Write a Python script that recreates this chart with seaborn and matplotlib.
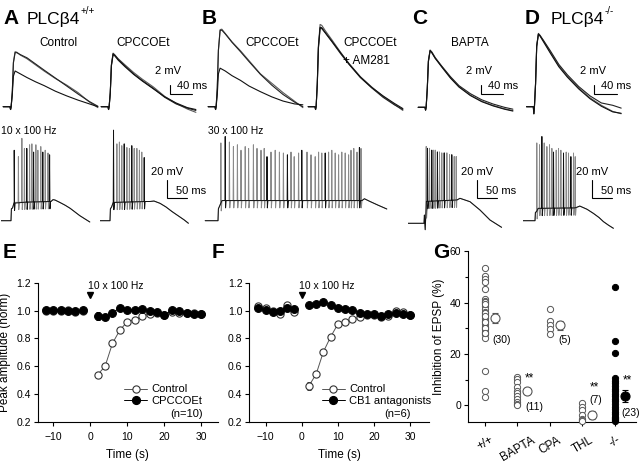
import numpy as np
import pandas as pd
import matplotlib
matplotlib.use("Agg")
import matplotlib.pyplot as plt
import seaborn as sns
from matplotlib.lines import Line2D

# ======================= DATA =======================
# --- EPSP traces (ms, mV) ---
EPSP_T = [-12, 0, 1, 2, 4, 6, 9, 12, 18, 30, 45, 60, 80, 100, 120, 140, 155]
A_CTRL_1 = [0, 0, -0.6, 0, 3, 9.5, 11.7, 11.6, 11.0, 10.2, 8.9, 7.6, 6.0, 4.6, 3.0, 1.0, -0.2]
A_CTRL_2 = [0, 0, -0.6, 0, 3, 9.3, 11.5, 11.5, 11.1, 10.4, 9.1, 7.8, 6.1, 4.4, 2.7, 1.1, 0.1]
A_CTRL_3 = [0, 0, -0.6, 0, 2.5, 6.5, 7.6, 7.4, 7.0, 6.2, 5.3, 4.5, 3.3, 2.3, 1.4, 0.6, 0.0]
A_CPC_1 = [0, 0, -0.6, 0, 3, 9.0, 11.4, 11.0, 10.2, 8.9, 7.3, 5.9, 4.2, 2.2, 0.7, -0.5, -1.2]
A_CPC_2 = [0, 0, -0.6, 0, 3, 8.8, 11.3, 11.0, 10.1, 8.7, 7.0, 5.6, 3.9, 2.0, 0.6, -0.3, -0.8]
A_CPC_3 = [0, 0, -0.6, 0, 2.8, 8.7, 11.1, 10.8, 9.9, 8.5, 6.9, 5.5, 3.8, 2.1, 0.8, -0.2, -0.6]
B_CPC_1 = [0, 0, -0.6, 0, 4, 12.0, 16.4, 16.5, 15.6, 13.8, 11.9, 9.8, 7.0, 5.0, 3.0, 1.2, -0.2]
B_CPC_2 = [0, 0, -0.6, 0, 4, 12.0, 16.2, 16.3, 15.5, 13.7, 11.7, 9.6, 6.9, 4.6, 2.6, 1.0, 0.0]
B_CPC_3 = [0, 0, -0.6, 0, 2.5, 7.0, 8.2, 8.0, 7.6, 6.6, 5.6, 4.4, 3.2, 2.1, 1.2, 0.6, 0.4]
B_AM_1 = [0, 0, -0.6, 0, 5, 13.0, 17.5, 17.3, 16.2, 14.2, 11.6, 9.2, 6.4, 4.2, 2.2, 0.5, -0.8]
B_AM_2 = [0, 0, -0.6, 0, 4.6, 12.4, 16.7, 16.6, 15.7, 13.8, 11.3, 9.0, 6.2, 4.0, 2.0, 0.4, -0.6]
B_AM_3 = [0, 0, -0.6, 0, 4.7, 12.6, 16.9, 16.8, 15.8, 13.9, 11.5, 9.1, 6.3, 4.1, 2.3, 0.7, -0.4]
C_BAP_1 = [0, 0, -0.6, 0, 4, 10.0, 12.2, 11.8, 10.6, 8.6, 6.3, 4.4, 2.6, 1.3, 0.4, -0.3, -0.7]
C_BAP_2 = [0, 0, -0.6, 0, 4, 9.8, 12.0, 11.7, 10.5, 8.7, 6.5, 4.6, 2.9, 1.6, 0.7, 0.0, -0.4]
C_BAP_3 = [0, 0, -0.6, 0, 3.8, 9.7, 12.1, 11.6, 10.4, 8.5, 6.2, 4.3, 2.5, 1.2, 0.3, -0.4, -0.8]
D_KO_1 = [0, 0, -1.5, 0, 5, 13.0, 15.6, 15.2, 14.0, 11.6, 8.7, 6.5, 4.0, 1.9, 0.3, -1.0, -1.5]
D_KO_2 = [0, 0, -1.5, 0, 5, 12.8, 15.4, 15.1, 14.1, 11.9, 9.0, 6.8, 4.3, 2.3, 0.8, 0.3, -0.3]
D_KO_3 = [0, 0, -1.5, 0, 4.8, 12.9, 15.5, 15.0, 13.8, 11.4, 8.5, 6.3, 3.8, 1.7, 0.1, -1.1, -1.4]

# --- spike trains (ms, mV) ---
A_CTRL_ENV_T = [-25, 0, 1, 4, 8, 100, 105, 110, 122, 135, 148, 160, 172, 185, 197]
A_CTRL_ENV_V = [0, 0, 13, 14, 20, 21, 23, 22.6, 20, 17, 13.5, 9.5, 5.5, 1.9, -1.4]
A_CTRL_BLK_T = [7.5, 39, 56, 79, 96]
A_CTRL_BLK_V = [77, 79, 75, 75, 72]
A_CTRL_GRY_T = [18, 26.7, 33, 46, 51.7, 61.7, 66.7, 74, 85, 92]
A_CTRL_GRY_V = [70, 90, 79, 83, 84, 83, 77, 81, 77, 74]

A_CPC_ENV_T = [-25, 0, 1, 4, 8, 92, 100, 110, 125, 140, 155, 170, 185, 196]
A_CPC_ENV_V = [0, 0, 13, 15, 20, 21, 21, 21.5, 19, 15, 10, 5.5, 1, -2.8]
A_CPC_BLK_T = [8.3, 35, 54, 85]
A_CPC_BLK_V = [99, 84, 82, 69]
A_CPC_GRY_T = [16.7, 23, 29, 41.7, 48, 60, 66.7, 73, 79]
A_CPC_GRY_V = [84, 86, 82, 80, 79, 79, 79, 77, 75]

B_ENV_T = [-32, 0, 1, 4, 10, 360, 366, 380, 400, 422]
B_ENV_V = [0, 0, 13, 16, 22, 22, 24, 21, 17, 12.8]
B_BLK_T = [17.5, 122, 173, 209, 267.5, 353]
B_BLK_V = [92, 70, 72, 77, 74, 80]
B_GRY_T = [6.7, 28, 38, 48, 57, 67.5, 76, 88, 97, 107, 115, 132, 142.5, 153, 163, 182,
           190, 201, 222, 232, 242.5, 251, 259, 276, 284, 292.5, 301, 309, 317.5, 326,
           332, 339, 347, 357]
B_GRY_V = [85, 86, 81, 83, 77, 81, 79, 83, 79, 77, 79, 75, 77, 75, 74, 75,
           70, 74, 75, 72, 70, 75, 74, 75, 77, 74, 72, 75, 74, 72,
           77, 79, 75, 79]

C_ENV_T = [-40, 0, 1, 3, 6, 82, 90, 115, 140, 165, 194]
C_ENV_V = [0, 0, 9, -7, 24, 25.5, 27.3, 23.6, 14.5, 3.6, -4.4]
C_BLK_T = [8.3, 19, 33, 50, 69]
C_BLK_V = [82, 80, 78, 77, 75]
C_GRY_T = [5, 13.3, 23.3, 27.5, 38.3, 44, 56.7, 63.3, 75, 80]
C_GRY_V = [84, 82, 80, 80, 78, 77, 77, 75, 73, 73]

D_ENV_T = [-30, 0, 1, 4, 8, 100, 112, 130, 146, 160, 171, 184, 196]
D_ENV_V = [0, 0, 9, 10, 13.5, 14, 16, 12.5, 8, 3.5, -1, -5, -8.3]
D_BLK_T = [16.7, 45.8, 70.8, 89.2]
D_BLK_V = [92, 75, 74, 70]
D_GRY_T = [4, 10.8, 22.5, 29.2, 35.8, 41.7, 52.5, 58.3, 64.2, 77.5, 83.3, 95.8, 100]
D_GRY_V = [85, 83, 85, 81, 83, 79, 77, 79, 77, 75, 74, 74, 70]
AHP_DEPTH = 8   # mV below plateau after each spike

# --- panel E / F (time in s, normalised amplitude) ---
T_PRE = [-12, -10, -8, -6, -4, -2]
T_POST = [2, 4, 6, 8, 10, 12, 14, 16, 18, 20, 22, 24, 26, 28, 30]
E_CTRL_PRE = [1.00, 0.995, 1.00, 1.005, 0.99, 0.995]
E_CTRL_POST = [0.54, 0.60, 0.765, 0.86, 0.92, 0.935, 0.96, 0.975, 0.98, 0.97, 0.99, 0.985, 0.98, 0.98, 0.975]
E_CTRL_SEM = [0.02, 0.02, 0.02, 0.015, 0.01, 0.01, 0.01, 0.01, 0.01, 0.01, 0.01, 0.01, 0.01, 0.01, 0.01]
E_CPC_PRE = [1.007, 1.007, 1.005, 0.998, 0.998, 1.002]
E_CPC_POST = [0.959, 0.951, 0.983, 1.020, 1.005, 1.007, 1.009, 0.998, 0.993, 0.969, 1.002, 0.995, 0.980, 0.976, 0.976]
E_CPC_SEM = [0.03, 0.02, 0.015, 0.01, 0.01, 0.01, 0.01, 0.01, 0.01, 0.01, 0.01, 0.01, 0.01, 0.01, 0.01]

F_CTRL_PRE = [1.036, 1.02, 1.00, 0.978, 1.041, 0.988]
F_CTRL_POST = [0.46, 0.544, 0.704, 0.811, 0.903, 0.915, 0.937, 0.951, 0.97, 0.97, 0.955, 0.96, 1.0, 0.99, 0.97]
F_CTRL_SEM = [0.03, 0.02, 0.02, 0.015, 0.01, 0.01, 0.01, 0.01, 0.01, 0.01, 0.01, 0.01, 0.01, 0.01, 0.01]
F_CB1_PRE = [1.02, 1.005, 0.988, 0.995, 1.017, 1.012]
F_CB1_POST = [1.041, 1.046, 1.065, 1.039, 1.02, 1.01, 1.007, 0.98, 0.978, 0.973, 0.961, 0.978, 0.98, 0.973, 0.969]
F_CB1_SEM = [0.015, 0.01, 0.01, 0.01, 0.01, 0.01, 0.01, 0.01, 0.01, 0.01, 0.01, 0.01, 0.01, 0.01, 0.01]

# --- panel G (% inhibition) ---
G_CATS = ["+/+", "BAPTA", "CPA", "THL", "-/-"]
G_WT = [53.4, 50.5, 49.2, 47.9, 45.2, 41.3, 40.6, 40.0, 38.8, 37.7, 36.5, 35.3, 34.2, 33.0, 31.8,
        30.6, 29.6, 28.7, 27.8, 26.4, 13.4, 5.6, 3.2, 40.3, 39.4, 36.0, 34.8, 32.4, 30.0, 28.2]
G_BAPTA = [11.2, 10.3, 9.1, 7.3, 5.7, 4.7, 3.6, 2.6, 1.4, 0.5, 0.0]
G_CPA = [37.4, 32.7, 31.3, 29.6, 27.9]
G_THL = [1.0, -0.5, -2.0, -3.8, -5.5, -5.8, -6.0]
G_KO = [46.0, 25.0, 20.4, 10.5, 9.5, 8.5, 7.5, 6.5, 5.5, 4.5, 3.5, 2.5, 1.5, 0.5, -0.5,
        -1.5, -2.5, -3.5, -4.5, -5.5, -6.0, -5.0, -5.8]
G_MEAN = [33.9, 5.5, 31.2, -3.8, 3.5]
G_SEM = [2.0, 1.2, 1.8, 1.5, 2.4]
G_N = ["(30)", "(11)", "(5)", "(7)", "(23)"]
G_SIG = ["", "**", "", "**", "**"]

# ======================= STYLE =======================
sns.set_theme(style="ticks")
plt.rcParams["font.family"] = ["Liberation Sans", "DejaVu Sans"]
plt.rcParams.update({
    "axes.linewidth": 0.8,
    "xtick.major.width": 0.8, "ytick.major.width": 0.8,
    "xtick.minor.width": 0.8, "ytick.minor.width": 0.8,
    "xtick.major.size": 3, "ytick.major.size": 3,
    "ytick.minor.size": 2,
    "xtick.labelsize": 7.5, "ytick.labelsize": 7.5,
    "axes.labelsize": 8.5,
    "xtick.major.pad": 2, "ytick.major.pad": 2,
    "axes.edgecolor": "black", "xtick.color": "black", "ytick.color": "black",
    "text.color": "black", "axes.labelcolor": "black",
})

W, H = 640, 466
fig = plt.figure(figsize=(W / 100, H / 100), dpi=100)
fig.patch.set_facecolor("white")


def px_axes(l, t, r, b):
    return fig.add_axes([l / W, 1 - b / H, (r - l) / W, (b - t) / H])


def trace_axes(x0, y0, tlim, vlim, sx, sy):
    ax = px_axes(x0 + tlim[0] * sx, y0 - vlim[1] * sy, x0 + tlim[1] * sx, y0 - vlim[0] * sy)
    ax.set_xlim(*tlim)
    ax.set_ylim(*vlim)
    ax.axis("off")
    return ax


def scale_bar(ax, t, v, dt, dv, vlab, tlab, voff, toff, fs=8):
    ax.plot([t, t, t + dt], [v + dv, v, v], color="black", lw=0.8, clip_on=False,
            solid_joinstyle="miter")
    ax.annotate(vlab, xy=(t, v + dv), xytext=voff, textcoords="offset points",
                ha="center", va="center", fontsize=fs, annotation_clip=False)
    ax.annotate(tlab, xy=(t, v), xytext=toff, textcoords="offset points",
                ha="left", va="center", fontsize=fs, annotation_clip=False)


# --------------- EPSP traces ---------------
SX_E, SY_E = 0.567, 4.7
TL_E, VL_E = (-14, 158), (-2.5, 19)
COLS = ["#5a5a5a", "#222222", "#111111"]


def draw_epsp(x0, y0, sweeps):
    ax = trace_axes(x0, y0, TL_E, VL_E, SX_E, SY_E)
    for s, c in zip(sweeps, COLS):
        sns.lineplot(x=EPSP_T, y=s, ax=ax, color=c, lw=0.8, legend=False)
    ax.axis("off")
    return ax


axA1 = draw_epsp(10, 106.7, [A_CTRL_1, A_CTRL_2, A_CTRL_3])
axA2 = draw_epsp(108, 106.7, [A_CPC_1, A_CPC_2, A_CPC_3])
axB1 = draw_epsp(215, 106.7, [B_CPC_1, B_CPC_2, B_CPC_3])
axB2 = draw_epsp(315, 106.7, [B_AM_1, B_AM_2, B_AM_3])
axC = draw_epsp(425, 107.3, [C_BAP_1, C_BAP_2, C_BAP_3])
axD = draw_epsp(533.3, 106.7, [D_KO_1, D_KO_2, D_KO_3])

scale_bar(axA2, 109, 2.6, 40, 2, "2 mV", "40 ms", (-1, 10), (5, 6))
scale_bar(axC, 98, 2.8, 40, 2, "2 mV", "40 ms", (-1, 10), (5, 6))
scale_bar(axD, 107, 2.6, 40, 2, "2 mV", "40 ms", (-1, 10), (5, 6))

# --------------- spike trains ---------------
SX_S, SY_S = 0.4, 0.915
VL_S = (-12, 100)


def sweep_xy(env_t, env_v, sp_t, sp_v):
    pts = list(zip(env_t, env_v))
    for t, v in zip(sp_t, sp_v):
        base = float(np.interp(t, env_t, env_v))
        pts += [(t - 0.2, base), (t + 0.5, v), (t + 1.4, base - AHP_DEPTH), (t + 2.8, base)]
    pts.sort()
    a = np.array(pts)
    return a[:, 0], a[:, 1]


def draw_spikes(x0, y0, tlim, env_t, env_v, blk_t, blk_v, gry_t, gry_v):
    ax = trace_axes(x0, y0, tlim, VL_S, SX_S, SY_S)
    tg, vg = sweep_xy(env_t, env_v, gry_t, gry_v)
    ax.plot(tg, vg, color="#8a8a8a", lw=0.7)
    tb, vb = sweep_xy(env_t, env_v, blk_t, blk_v)
    ax.plot(tb, vb, color="#111111", lw=0.7)
    return ax


sA1 = draw_spikes(11, 220.7, (-25, 200), A_CTRL_ENV_T, A_CTRL_ENV_V, A_CTRL_BLK_T, A_CTRL_BLK_V, A_CTRL_GRY_T, A_CTRL_GRY_V)
sA2 = draw_spikes(110, 220.7, (-25, 200), A_CPC_ENV_T, A_CPC_ENV_V, A_CPC_BLK_T, A_CPC_BLK_V, A_CPC_GRY_T, A_CPC_GRY_V)
sB = draw_spikes(218, 220.7, (-35, 430), B_ENV_T, B_ENV_V, B_BLK_T, B_BLK_V, B_GRY_T, B_GRY_V)
sC = draw_spikes(424, 223.3, (-40, 200), C_ENV_T, C_ENV_V, C_BLK_T, C_BLK_V, C_GRY_T, C_GRY_V)
sD = draw_spikes(535, 220.7, (-30, 200), D_ENV_T, D_ENV_V, D_BLK_T, D_BLK_V, D_GRY_T, D_GRY_V)

scale_bar(sA2, 141.7, 24.5, 50, 20, "20 mV", "50 ms", (0, 5.5), (7, 5))
scale_bar(sC, 131.7, 27.3, 50, 20, "20 mV", "50 ms", (0, 5.5), (7, 5))
scale_bar(sD, 141.7, 24.5, 50, 20, "20 mV", "50 ms", (0, 5.5), (7, 5))

# --------------- top texts ---------------
def ftext(x, y, s, **kw):
    fig.text(x / W, 1 - y / H, s, **kw)


for lab, x in [("A", 3), ("B", 202), ("C", 412), ("D", 525)]:
    ftext(x, 24, lab, fontsize=15, fontweight="bold", va="baseline")
ftext(27, 24, "PLCβ4", fontsize=12.5, va="baseline")
ftext(81, 14, "+/+", fontsize=7, va="baseline")
ftext(551, 24, "PLCβ4", fontsize=12.5, va="baseline")
ftext(605, 14, "-/-", fontsize=7, va="baseline")
ftext(58, 43, "Control", fontsize=8.5, ha="center", va="center")
ftext(143, 43, "CPCCOEt", fontsize=8.5, ha="center", va="center")
ftext(272, 43, "CPCCOEt", fontsize=8.5, ha="center", va="center")
ftext(343, 43, "CPCCOEt", fontsize=8.5, ha="left", va="center")
ftext(343, 61, "+ AM281", fontsize=8.5, ha="left", va="center")
ftext(470, 43, "BAPTA", fontsize=8.5, ha="center", va="center")
ftext(1, 131, "10 x 100 Hz", fontsize=7.5, ha="left", va="center")
ftext(208, 131, "30 x 100 Hz", fontsize=7.5, ha="left", va="center")
for lab, x in [("E", 3), ("F", 212), ("G", 433)]:
    ftext(x, 258, lab, fontsize=15, fontweight="bold", va="baseline")

# --------------- panels E & F ---------------
def time_panel(box, xlim, ctrl_pre, ctrl_post, ctrl_sem, drug_pre, drug_post, drug_sem,
               drug_label, n_label, leg_x, txt_x):
    ax = px_axes(*box)
    open_kw = dict(marker="o", markersize=5.2, markerfacecolor="white", markeredgecolor="#333333",
                   markeredgewidth=0.8, color="#555555", lw=0.7, legend=False)
    fill_kw = dict(marker="o", markersize=5.6, markerfacecolor="black", markeredgecolor="black",
                   markeredgewidth=0.8, color="black", lw=0.7, legend=False)
    ax.errorbar(T_POST, ctrl_post, yerr=ctrl_sem, fmt="none", ecolor="#333333", elinewidth=0.7,
                capsize=1.5, capthick=0.7, zorder=1)
    sns.lineplot(x=T_PRE, y=ctrl_pre, ax=ax, **open_kw)
    sns.lineplot(x=T_POST, y=ctrl_post, ax=ax, **open_kw)
    ax.errorbar(T_POST, drug_post, yerr=drug_sem, fmt="none", ecolor="black", elinewidth=0.7,
                capsize=1.5, capthick=0.7, zorder=1)
    sns.lineplot(x=T_PRE, y=drug_pre, ax=ax, **fill_kw)
    sns.lineplot(x=T_POST, y=drug_post, ax=ax, **fill_kw)
    ax.set_xlim(*xlim)
    ax.set_ylim(0.2, 1.2)
    ax.set_xticks([-10, 0, 10, 20, 30])
    ax.set_yticks([0.2, 0.4, 0.6, 0.8, 1.0, 1.2])
    ax.set_yticklabels(["0.2", "0.4", "0.6", "0.8", "1.0", "1.2"])
    ax.tick_params(axis="x", pad=4)
    ax.set_xlabel("Time (s)", labelpad=5)
    sns.despine(ax=ax)
    ax.plot([0], [1.109], marker="v", color="black", markersize=5, clip_on=False)
    ax.text(txt_x, 1.177, "10 x 100 Hz", fontsize=7.5, va="center", ha="left")
    handles = [Line2D([], [], color="#555555", lw=0.7, marker="o", markersize=5.2,
                      markerfacecolor="white", markeredgecolor="#333333", markeredgewidth=0.8),
               Line2D([], [], color="black", lw=0.7, marker="o", markersize=5.6,
                      markerfacecolor="black", markeredgecolor="black")]
    ax.legend(handles, ["Control", drug_label], loc="upper left", bbox_to_anchor=(leg_x, 0.27),
              frameon=False, fontsize=8, borderpad=0, borderaxespad=0, handlelength=2.1,
              handletextpad=0.4, labelspacing=0.12)
    ax.text(0.826, 0.057, n_label, transform=ax.transAxes, fontsize=8, ha="center", va="center")
    return ax


axE = time_panel((37.7, 282.7, 218, 422), (-14.2, 34.5), E_CTRL_PRE, E_CTRL_POST, E_CTRL_SEM,
                 E_CPC_PRE, E_CPC_POST, E_CPC_SEM, "CPCCOEt", "(n=10)", 0.478, -0.7)
axE.set_ylabel("Peak amplitude (norm)", labelpad=4)
axF = time_panel((249.3, 282.7, 429.3, 422), (-14.5, 35.3), F_CTRL_PRE, F_CTRL_POST, F_CTRL_SEM,
                 F_CB1_PRE, F_CB1_POST, F_CB1_SEM, "CB1 antagonists", "(n=6)", 0.402, -0.75)
axF.set_ylabel("")

# --------------- panel G ---------------
axG = px_axes(468, 251.3, 636, 421.7)
groups = [G_WT, G_BAPTA, G_CPA, G_THL, G_KO]
for i, vals in enumerate(groups):
    filled = (i == 4)
    sns.scatterplot(x=[i] * len(vals), y=vals, ax=axG, s=20, marker="o",
                    color="black" if filled else "white",
                    edgecolor="black" if filled else "#555555", linewidth=0.7,
                    legend=False, clip_on=False, zorder=3)
    axG.errorbar(i + 0.3, G_MEAN[i], yerr=G_SEM[i], fmt="o", ms=6.5,
                 mfc="black" if filled else "white", mec="black" if filled else "#555555",
                 mew=0.8, ecolor="black" if filled else "#555555", elinewidth=0.8,
                 capsize=2, capthick=0.8, zorder=4)
n_pos = [(0.22, 25.5), (0.24, -0.5), (0.25, 25.5), (0.22, 2.1), (0.2, -3.1)]
sig_pos = [None, (0.24, 10.5), None, (0.22, 7.0), (0.25, 9.6)]
for i in range(5):
    axG.text(i + n_pos[i][0], n_pos[i][1], G_N[i], fontsize=7.5, ha="left", va="center")
    if G_SIG[i]:
        axG.text(i + sig_pos[i][0], sig_pos[i][1], G_SIG[i], fontsize=8.5, ha="left", va="center")
axG.set_xlim(-0.52, 4.65)
axG.set_ylim(-6.4, 60)
axG.set_yticks([0, 20, 40, 60])
axG.set_yticks([10, 30, 50], minor=True)
axG.set_xticks(range(5))
axG.set_xticklabels(G_CATS, rotation=30, ha="center", fontsize=8.5)
axG.tick_params(axis="x", pad=6)
axG.set_ylabel("Inhibition of EPSP (%)", labelpad=3)
sns.despine(ax=axG)

fig.savefig("out.png", dpi=100, facecolor="white")
